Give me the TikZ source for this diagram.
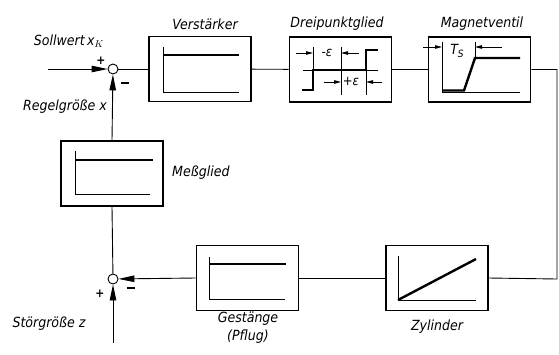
\documentclass[tikz,border=0pt]{standalone}
\usepackage{fontspec}
\setmainfont{DejaVu Sans Condensed}
\usetikzlibrary{arrows.meta}
\begin{document}
\begin{tikzpicture}[x=1pt,y=-1pt,
  blk/.style={draw,line width=1.8pt,minimum width=102pt,minimum height=65pt,inner sep=0pt},
  sumj/.style={draw,circle,line width=0.9pt,minimum size=10pt,inner sep=0pt,fill=white},
  sig/.style={line width=0.9pt},
  sigar/.style={line width=0.9pt,-{Triangle[length=16pt,width=6.5pt]}},
  thin/.style={line width=0.9pt},
  thick/.style={line width=2.4pt},
  dim/.style={line width=0.8pt,-{Triangle[length=7pt,width=3.5pt]}},
  lbl/.style={font=\fontsize{14}{16}\selectfont\itshape,inner sep=0pt},
  sml/.style={font=\fontsize{13}{15}\selectfont\itshape,inner sep=0pt},
  sgn/.style={font=\fontsize{12}{12}\selectfont\bfseries,inner sep=0pt}]
\useasboundingbox (0,0) rectangle (559,354);
% blocks
\node[blk] (verst) at (200,69) {};
\node[blk] (drei) at (340.5,69.5) {};
\node[blk] (magnet) at (479.5,69.5) {};
\node[blk] (mess) at (112,173.5) {};
\node[blk] (gest) at (247.5,278) {};
\node[blk] (zyl) at (437,278) {};
\node[sumj] (s1) at (113,69) {};
\node[sumj] (s2) at (113,279) {};
\coordinate (in1) at (48,69);
\coordinate (in2) at (113,343);
\coordinate (c1) at (557,279);
% connectors
\draw[sigar] (in1) -- (s1);
\draw[sig] (s1) -- (verst);
\draw[sig] (verst) -- (drei);
\draw[sig] (drei) -- (magnet);
\draw[sig] (magnet.east) -| (c1) -- (zyl.east);
\draw[sig] (zyl) -- (gest);
\draw[sigar] (gest.west) -- (s2);
\draw[sigar] (in2) -- (s2);
\draw[sig] (s2) -- (mess.south);
\draw[sigar] (mess.north) -- (s1);
% labels
\node[lbl] (tsoll) at (69,41) {Sollwert\,$\mathit{x}_{K}$};
\node[lbl] (tregel) at (65,107) {Regelgröße $\mathit{x}$};
\node[lbl] (tverst) at (205,24) {Verstärker};
\node[lbl] (tdrei) at (337,24) {Dreipunktglied};
\node[lbl] (tmagnet) at (482,24) {Magnetventil};
\node[lbl,anchor=west] (tmess) at (172,173) {Meßglied};
\node[lbl] (tstoer) at (49,324) {Störgröße z};
\node[lbl] (tgest) at (248,319) {Gestänge};
\node[lbl] (tpflug) at (248,337) {(Pflug)};
\node[lbl] (tzyl) at (437,327) {Zylinder};
\node[sgn] (p1) at (101,61) {+};
\node[inner sep=0pt] (m1) at (125,83) {\rule{8pt}{1.5pt}};
\node[sgn] (p2) at (100,294) {+};
\node[inner sep=0pt] (m2) at (131,288) {\rule{8pt}{1.5pt}};
% Verstaerker inner
\draw[thin] (163,47) -- (163,92) -- (239,92);
\draw[thick] (163,55) -- (239,55);
% Dreipunktglied inner
\draw[thin] (303,70) -- (378,70);
\draw[thin] (341,47) -- (341,95);
\draw[thin] (313,47) -- (313,70);
\draw[thin] (366,70) -- (366,95);
\draw[thick] (302,90) -- (313,90) -- (313,70) -- (366,70) -- (366,50) -- (378,50);
\draw[dim] (296,53) -- (313,53);
\draw[dim] (359,53) -- (341,53);
\node[sml] (teps1) at (327,53) {-ε};
\draw[dim] (324,82) -- (341,82);
\draw[dim] (382,82) -- (366,82);
\node[sml] (teps2) at (351,82) {+ε};
% Magnetventil inner
\draw[thin] (442,42) -- (442,92) -- (520,92);
\draw[thin] (475,42) -- (475,58);
\draw[thick] (442,90.5) -- (464,90.5) -- (475,58) -- (520,58);
\draw[dim] (423,47) -- (442,47);
\draw[dim] (502,47) -- (475,47);
\node[lbl] (tts) at (457,51) {T\raisebox{-3pt}{\fontsize{10}{11}\selectfont S}};
% Messglied inner
\draw[thin] (75,151) -- (75,194) -- (150,194);
\draw[thick] (75,160) -- (153,160);
% Gestaenge inner
\draw[thin] (209,257) -- (209,299) -- (285,299);
\draw[thick] (209,264) -- (286,264);
% Zylinder inner
\draw[thin] (398,256) -- (398,300) -- (476,300);
\draw[thick] (398,300) -- (476,259);
\end{tikzpicture}
\end{document}
